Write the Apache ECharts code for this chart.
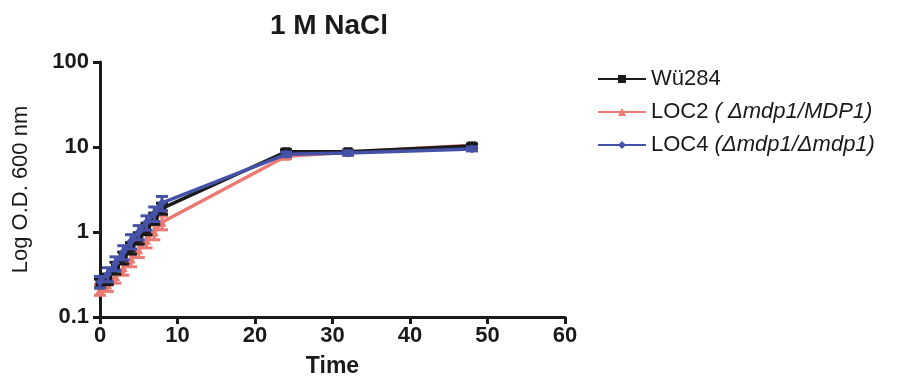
<!DOCTYPE html>
<html>
<head>
<meta charset="utf-8">
<script src="https://cdn.jsdelivr.net/npm/echarts@6/dist/echarts.min.js"></script>
<style>
  html, body { margin: 0; padding: 0; background: #ffffff; }
  #chart { width: 904px; height: 378px; }
</style>
</head>
<body>
<div id="chart"></div>
<script>
// Growth curves in 1 M NaCl (OD600, log scale)
const timePoints = [0, 1, 2, 3, 4, 5, 6, 7, 8, 24, 32, 48];

const wuMean  = [0.25, 0.28, 0.38, 0.50, 0.65, 0.85, 1.10, 1.45, 1.90, 8.8, 8.8, 10.3];
const wuErr   = [0.03, 0.04, 0.06, 0.08, 0.10, 0.13, 0.17, 0.22, 0.28, 0.5, 0.4, 0.5];

const loc2Mean = [0.21, 0.24, 0.30, 0.38, 0.48, 0.62, 0.80, 1.00, 1.30, 7.8, 8.7, 10.5];
const loc2Err  = [0.03, 0.04, 0.05, 0.07, 0.09, 0.12, 0.15, 0.19, 0.24, 0.5, 0.4, 0.5];

const loc4Mean = [0.26, 0.32, 0.43, 0.58, 0.78, 1.00, 1.30, 1.65, 2.20, 8.2, 8.5, 9.5];
const loc4Err  = [0.04, 0.06, 0.08, 0.11, 0.15, 0.19, 0.25, 0.32, 0.42, 0.5, 0.5, 0.5];

const xTicks = [0, 10, 20, 30, 40, 50, 60];
const yTicks = [0.1, 1, 10, 100];

const COLORS = { wu: '#1a1a1a', loc2: '#ea7a72', loc4: '#4652a8' };

function pairs(means) {
  return timePoints.map((t, i) => [t, means[i]]);
}
function bars(means, errs) {
  return timePoints.map((t, i) => [t, means[i] - errs[i], means[i] + errs[i]]);
}

function errorBarSeries(id, color, means, errs, z) {
  return {
    type: 'custom',
    id: id,
    data: bars(means, errs),
    z: z,
    silent: true,
    renderItem: function (params, api) {
      const x = api.value(0);
      const lo = api.coord([x, api.value(1)]);
      const hi = api.coord([x, api.value(2)]);
      const w = 6;
      const style = { stroke: color, lineWidth: 3 };
      return {
        type: 'group',
        children: [
          { type: 'line', shape: { x1: lo[0], y1: lo[1], x2: hi[0], y2: hi[1] }, style: style },
          { type: 'line', shape: { x1: lo[0] - w, y1: lo[1], x2: lo[0] + w, y2: lo[1] }, style: style },
          { type: 'line', shape: { x1: hi[0] - w, y1: hi[1], x2: hi[0] + w, y2: hi[1] }, style: style }
        ]
      };
    }
  };
}

function lineSeries(name, color, symbol, means, z) {
  return {
    type: 'line',
    name: name,
    data: pairs(means),
    symbol: symbol,
    symbolSize: 9,
    z: z,
    lineStyle: { color: color, width: 3.5 },
    itemStyle: { color: color },
    emphasis: { disabled: true }
  };
}

const chart = echarts.init(document.getElementById('chart'), null, { renderer: 'canvas' });

const fontFamily = 'Liberation Sans, Arial, sans-serif';

chart.setOption({
  animation: false,
  backgroundColor: '#ffffff',
  title: {
    text: '1 M NaCl',
    left: 324,
    top: 7,
    textAlign: 'center',
    textStyle: { fontFamily: fontFamily, fontSize: 28, fontWeight: 'bold', color: '#1a1a1a' }
  },
  legend: {
    left: 592,
    top: 62,
    orient: 'vertical',
    itemGap: 9,
    itemWidth: 48,
    itemHeight: 10,
    data: ['Wü284', 'LOC2', 'LOC4'],
    formatter: function (name) {
      if (name === 'LOC2') return 'LOC2 {i|( Δmdp1/MDP1)}';
      if (name === 'LOC4') return 'LOC4 {i|(Δmdp1/Δmdp1)}';
      return name;
    },
    textStyle: {
      fontFamily: fontFamily, fontSize: 22, lineHeight: 24, color: '#1a1a1a',
      rich: { i: { fontFamily: fontFamily, fontSize: 22, lineHeight: 24, fontStyle: 'italic', color: '#1a1a1a' } }
    }
  },
  grid: { left: 100, right: 339, top: 62, bottom: 61, containLabel: false, outerBoundsMode: 'none' },
  xAxis: {
    type: 'value',
    min: 0,
    max: 60,
    interval: 10,
    name: 'Time',
    nameLocation: 'middle',
    nameGap: 38,
    nameTextStyle: { fontFamily: fontFamily, fontSize: 23, fontWeight: 'bold', color: '#1a1a1a' },
    axisLine: { lineStyle: { color: '#1a1a1a', width: 3 } },
    axisTick: { show: true, inside: false, length: 7, lineStyle: { color: '#1a1a1a', width: 3 } },
    axisLabel: {
      fontFamily: fontFamily, fontSize: 22, fontWeight: 'bold', color: '#1a1a1a', margin: 8,
      formatter: v => xTicks.includes(v) ? String(v) : ''
    },
    splitLine: { show: false }
  },
  yAxis: {
    type: 'log',
    logBase: 10,
    min: 0.1,
    max: 100,
    name: 'Log O.D. 600 nm',
    nameLocation: 'middle',
    nameGap: 68,
    nameRotate: 90,
    nameTextStyle: { fontFamily: fontFamily, fontSize: 22, color: '#1a1a1a' },
    axisLine: { show: true, lineStyle: { color: '#1a1a1a', width: 3 } },
    axisTick: { show: true, inside: false, length: 7, lineStyle: { color: '#1a1a1a', width: 3 } },
    axisLabel: {
      fontFamily: fontFamily, fontSize: 22, fontWeight: 'bold', color: '#1a1a1a', margin: 11,
      formatter: v => {
        const hit = yTicks.find(t => Math.abs(t - v) / t < 1e-6);
        return hit !== undefined ? String(hit) : '';
      }
    },
    minorTick: { show: false },
    splitLine: { show: false }
  },
  series: [
    errorBarSeries('loc2-sd', COLORS.loc2, loc2Mean, loc2Err, 3),
    lineSeries('LOC2', COLORS.loc2, 'triangle', loc2Mean, 4),
    errorBarSeries('wu-sd', COLORS.wu, wuMean, wuErr, 5),
    lineSeries('Wü284', COLORS.wu, 'rect', wuMean, 6),
    errorBarSeries('loc4-sd', COLORS.loc4, loc4Mean, loc4Err, 7),
    lineSeries('LOC4', COLORS.loc4, 'diamond', loc4Mean, 8)
  ]
});
</script>
</body>
</html>
